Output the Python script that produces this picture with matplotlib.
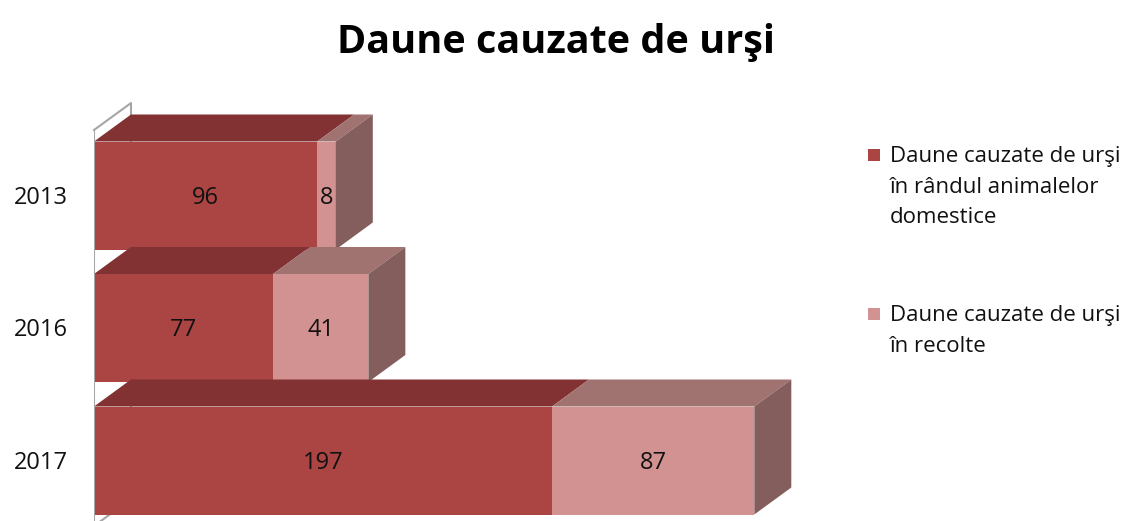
import matplotlib
matplotlib.use("Agg")
import matplotlib.pyplot as plt
from matplotlib.patches import Polygon, Rectangle

years = ["2013", "2016", "2017"]
animale = [96, 77, 197]
recolte = [8, 41, 87]
series_labels = ["Daune cauzate de urşi\nîn rândul animalelor\ndomestice",
                 "Daune cauzate de urşi\nîn recolte"]
title = "Daune cauzate de urşi"

front_cols = ["#AA4543", "#D19291"]
top_cols = ["#823232", "#A07270"]
side_col = "#845E5D"

FONT = "Open Sans"
W, H = 1133, 521
fig = plt.figure(figsize=(W / 100, H / 100), dpi=100)

px_per_unit = 2.325
x_left_px = 94
xmax = 450
ax_w_px = xmax * px_per_unit
y_top_px, y_bot_px = 0, 521
cat0_px, cat_step = 195.5, 132.5
ylo = (y_bot_px - cat0_px) / cat_step
yhi = (y_top_px - cat0_px) / cat_step
ax = fig.add_axes([x_left_px / W, 1 - y_bot_px / H, ax_w_px / W, (y_bot_px - y_top_px) / H])
ax.set_xlim(0, xmax)
ax.set_ylim(ylo, yhi)
ax.axis("off")

bh = 108 / cat_step
dx = 37 / px_per_unit
dy = 27 / cat_step
txt_off = 2.5 / cat_step

# wall and floor lines
wall_front_top = (130 - cat0_px) / cat_step
floor_front = (526 - cat0_px) / cat_step
wall_kw = dict(color="#A6A6A6", lw=1.5, clip_on=False)
ax.plot([0, dx, dx], [wall_front_top, wall_front_top - dy, floor_front - dy], zorder=1, **wall_kw)
ax.plot([0, dx], [floor_front, floor_front - dy], zorder=1, **wall_kw)

ypos = list(range(len(years)))
for i, y in enumerate(ypos):
    top = y - bh / 2
    segs = [(0, animale[i]), (animale[i], recolte[i])]
    z = 2 + i * 10
    for s, (left, val) in enumerate(segs):
        x0, x1 = left, left + val
        ax.barh(y, val, left=left, height=bh, color=front_cols[s], zorder=z + s * 3)
        ax.add_patch(Polygon([(x0, top), (x1, top), (x1 + dx, top - dy), (x0 + dx, top - dy)],
                             closed=True, facecolor=top_cols[s], edgecolor="none", zorder=z + s * 3))
        if s == len(segs) - 1:
            ax.add_patch(Polygon([(x1, top), (x1 + dx, top - dy), (x1 + dx, top + bh - dy), (x1, top + bh)],
                                 closed=True, facecolor=side_col, edgecolor="none", zorder=z + s * 3))
        ax.text((x0 + x1) / 2, y + txt_off, str(val), ha="center", va="center", fontsize=17,
                family=FONT, color="#111111", zorder=50)
    ax.text(-26 / px_per_unit, y + txt_off, years[i], ha="right", va="center", fontsize=17,
            family=FONT, color="#111111")

ax.plot([0, 0], [wall_front_top, ylo], color="#A6A6A6", lw=1.5, zorder=60)

fig.text(556 / W, 1 - 42 / H, title, ha="center", va="center", fontsize=28.5,
         fontweight="bold", family=FONT, color="#000000")

# legend
leg_y = [155, 314]
for k, lab in enumerate(series_labels):
    fig.patches.append(Rectangle(((868) / W, 1 - (leg_y[k] + 6) / H), 12 / W, 12 / H,
                                 transform=fig.transFigure, facecolor=front_cols[k], edgecolor="none"))
    fig.text(890 / W, 1 - (leg_y[k] - 9) / H, lab, ha="left", va="top", fontsize=16,
             family=FONT, color="#111111", linespacing=1.6)

fig.savefig("out.png", dpi=100)
